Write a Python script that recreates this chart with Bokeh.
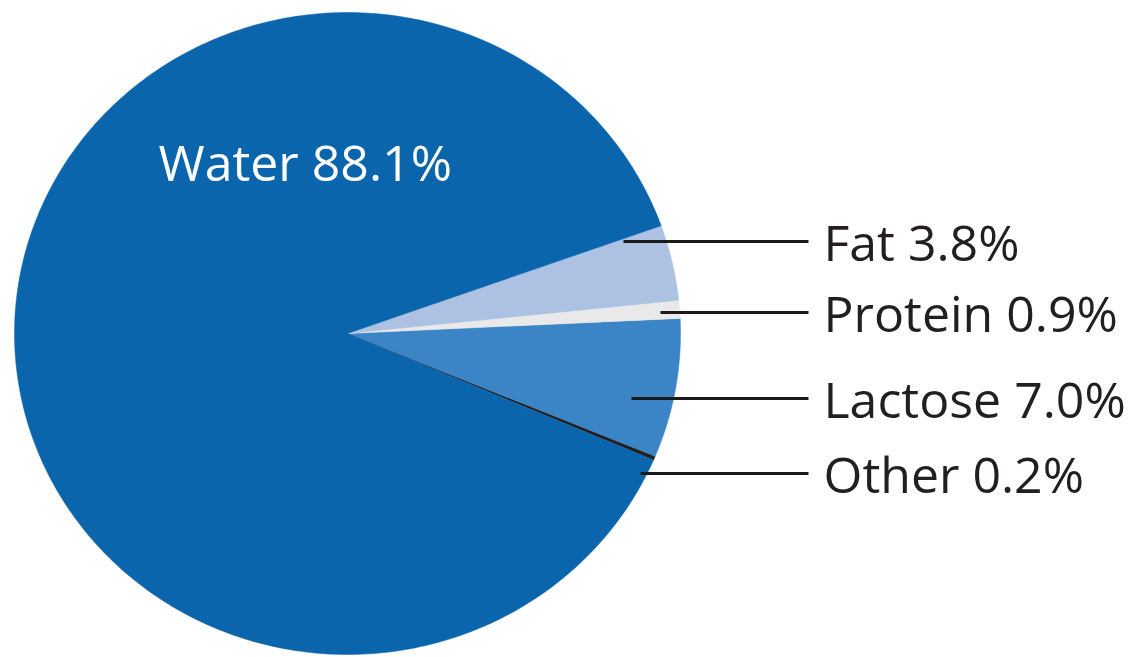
import math
from bokeh.plotting import figure
from bokeh.models import Range1d, ColumnDataSource
from bokeh.core.properties import value
from bokeh.embed import file_html
from bokeh.resources import INLINE

# ---- data ----
categories = ["Water", "Fat", "Protein", "Lactose", "Other"]
percent = [88.1, 3.8, 0.9, 7.0, 0.2]
labels = ["Water 88.1%", "Fat 3.8%", "Protein 0.9%", "Lactose 7.0%", "Other 0.2%"]
colors = {"Water": "#0a65ad", "Fat": "#adc2e3", "Protein": "#e9e9ea",
          "Lactose": "#3b84c5", "Other": "#231f20"}

# ---- layout (pixels; y measured from top) ----
W, H = 1148, 657
CX, CY = 347, 333          # pie centre
RX, RY = 333, 321          # pie radii (slightly stretched as in source)
ccw_order = ["Other", "Lactose", "Protein", "Fat", "Water"]
start_deg = 2.7 - (7.0 + 0.2) * 3.6   # Protein/Lactose boundary just above horizontal

callout_names = ["Fat", "Protein", "Lactose", "Other"]
callout_y = [241, 312, 398, 473]
callout_x0 = [623, 660, 631, 640]
callout_x1 = 808
label_x = 823

p = figure(width=W, height=H, x_range=Range1d(0, W), y_range=Range1d(0, H),
           x_axis_type=None, y_axis_type=None, toolbar_location=None,
           output_backend="svg", min_border=0)
p.grid.visible = False
p.outline_line_color = None
p.background_fill_color = "white"
p.border_fill_color = "white"

pct = dict(zip(categories, percent))
xs, ys, fills = [], [], []
a = math.radians(start_deg)
for name in ccw_order:
    span = math.radians(pct[name] * 3.6)
    n = max(4, int(pct[name] * 4))
    px, py = [CX], [H - CY]
    for i in range(n + 1):
        t = a + span * i / n
        px.append(CX + RX * math.cos(t))
        py.append(H - CY + RY * math.sin(t))
    xs.append(px); ys.append(py); fills.append(colors[name])
    a += span

p.patches(xs="xs", ys="ys", fill_color="fill", line_color="fill", line_width=0.5,
          source=ColumnDataSource(dict(xs=xs, ys=ys, fill=fills)))

# leader lines
p.segment(x0=callout_x0, y0=[H - y for y in callout_y],
          x1=[callout_x1] * 4, y1=[H - y for y in callout_y],
          line_color="#1a1a1a", line_width=3)

lab = dict(zip(categories, labels))
p.text(x=[label_x] * 4, y=[H - y for y in callout_y],
       text=[lab[n] for n in callout_names],
       text_font=value("Open Sans"), text_font_size="50px",
       text_color="#231f20", text_baseline="middle", text_align="left")

# Water label
p.text(x=[158], y=[H - 161], text=[lab["Water"]],
       text_font=value("Open Sans"), text_font_size="50px",
       text_color="white", text_baseline="middle", text_align="left")

open("out.html", "w").write(file_html(p, INLINE))
